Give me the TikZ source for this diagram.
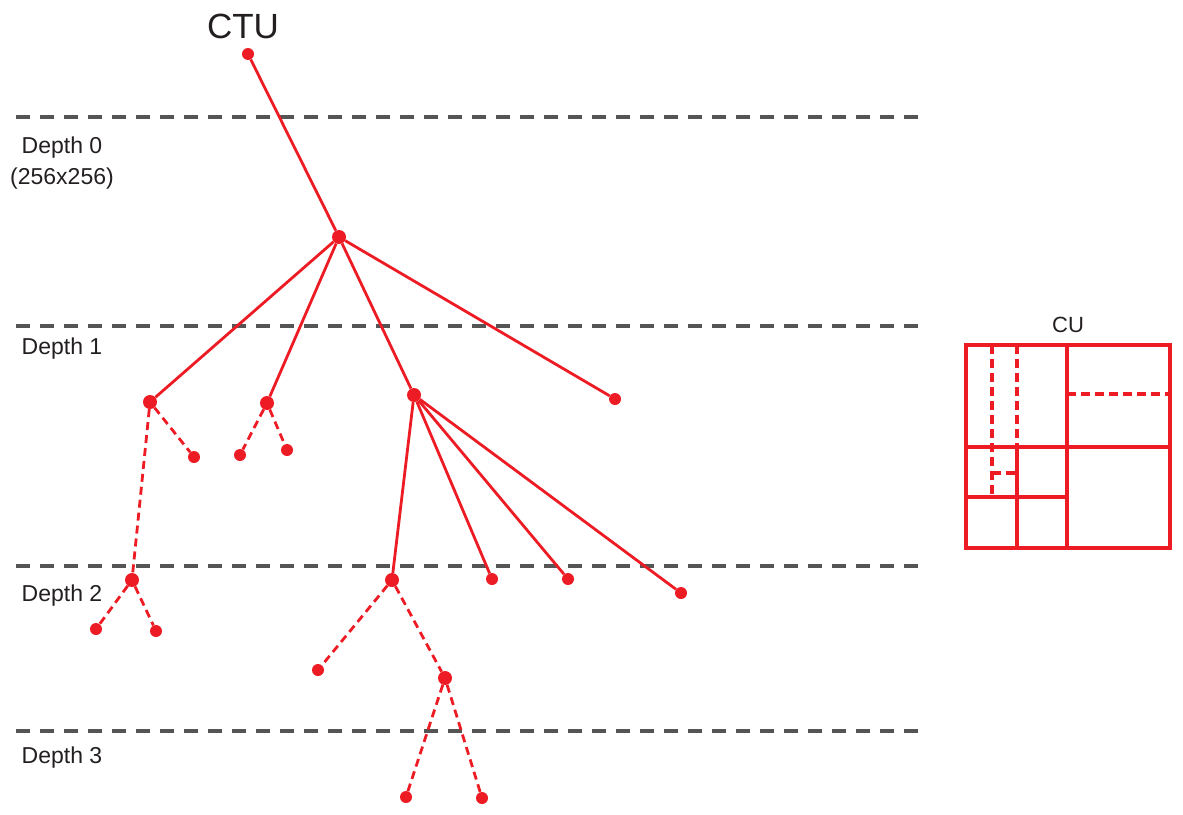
\documentclass[tikz,border=0pt]{standalone}
\usepackage{fontspec}
\setmainfont{Liberation Sans}
\definecolor{tred}{HTML}{ED1C24}
\definecolor{tgray}{HTML}{555555}
\definecolor{ttext}{HTML}{231F20}
\begin{document}
\begin{tikzpicture}[x=1pt,y=-1pt,
  level/.style={draw=tgray,line width=3.3pt,dash pattern=on 14pt off 10pt},
  lbl/.style={text=ttext,font=\fontsize{23}{27}\selectfont,align=center,inner sep=0pt},
  bigdot/.style={circle,fill=tred,inner sep=0pt,minimum size=14pt},
  smalldot/.style={circle,fill=tred,inner sep=0pt,minimum size=12pt},
  edge/.style={draw=tred,line width=2.8pt},
  dedge/.style={draw=tred,line width=2.8pt,dash pattern=on 8pt off 5pt},
  cubox/.style={draw=tred,line width=3.3pt},
  cudash/.style={draw=tred,line width=3.3pt,dash pattern=on 9pt off 5pt}]
\useasboundingbox (0,0) rectangle (1183,814);
% depth lines
\foreach \yy/\nm in {117/l0,326/l1,566/l2,731/l3}{
  \coordinate (\nm a) at (16,\yy);
  \coordinate (\nm b) at (920,\yy);
  \draw[level] (\nm a) -- (\nm b);
}
\node[lbl] (d0) at (62,148) {Depth 0};
\node[lbl] (d0s) at (62,178.5) {(256x256)};
\node[lbl] (d1) at (62,349) {Depth 1};
\node[lbl] (d2) at (62,596) {Depth 2};
\node[lbl] (d3) at (62,758) {Depth 3};
\node[text=ttext,font=\fontsize{35}{40}\selectfont,inner sep=0pt] (ctu) at (243,26) {CTU};
% tree nodes
\node[smalldot] (r) at (248,54) {};
\node[bigdot] (a) at (339,237) {};
\node[bigdot] (b1) at (150,402) {};
\node[bigdot] (b2) at (267,403) {};
\node[bigdot] (b3) at (414,395) {};
\node[smalldot] (b4) at (615,399) {};
\node[bigdot] (c1) at (132,580) {};
\node[smalldot] (c2) at (194,457) {};
\node[smalldot] (c11) at (96,629) {};
\node[smalldot] (c12) at (156,631) {};
\node[smalldot] (e1) at (240,455) {};
\node[smalldot] (e2) at (287,450) {};
\node[bigdot] (d1n) at (392,580) {};
\node[smalldot] (d2n) at (492,579) {};
\node[smalldot] (d3n) at (568,579) {};
\node[smalldot] (d4n) at (681,593) {};
\node[smalldot] (f1) at (318,670) {};
\node[bigdot] (g) at (445,678) {};
\node[smalldot] (g1) at (406,797) {};
\node[smalldot] (g2) at (482,798) {};
% edges
\draw[edge] (r) -- (a);
\draw[edge] (a) -- (b1);
\draw[edge] (a) -- (b2);
\draw[edge] (a) -- (b3);
\draw[edge] (a) -- (b4);
\draw[dedge] (b1) -- (c1);
\draw[dedge] (b1) -- (c2);
\draw[dedge] (c1) -- (c11);
\draw[dedge] (c1) -- (c12);
\draw[dedge] (b2) -- (e1);
\draw[dedge] (b2) -- (e2);
\draw[edge] (b3) -- (d1n);
\draw[edge] (b3) -- (d2n);
\draw[edge] (b3) -- (d3n);
\draw[edge] (b3) -- (d4n);
\draw[dedge] (d1n) -- (f1);
\draw[dedge] (d1n) -- (g);
\draw[dedge] (g) -- (g1);
\draw[dedge] (g) -- (g2);
% CU box
\node[text=ttext,font=\fontsize{22}{26}\selectfont,inner sep=0pt] (cu) at (1068,325) {CU};
\draw[cudash] (992,345) -- (992,495);
\draw[cudash] (1017,345) -- (1017,447);
\draw[cudash] (992,473) -- (1017,473);
\draw[cudash] (1067,394) -- (1170,394);
\draw[cubox] (966,345) rectangle (1170,548);
\draw[cubox] (1067,345) -- (1067,548);
\draw[cubox] (966,447) -- (1170,447);
\draw[cubox] (966,497) -- (1067,497);
\draw[cubox] (1017,447) -- (1017,548);
\end{tikzpicture}
\end{document}
